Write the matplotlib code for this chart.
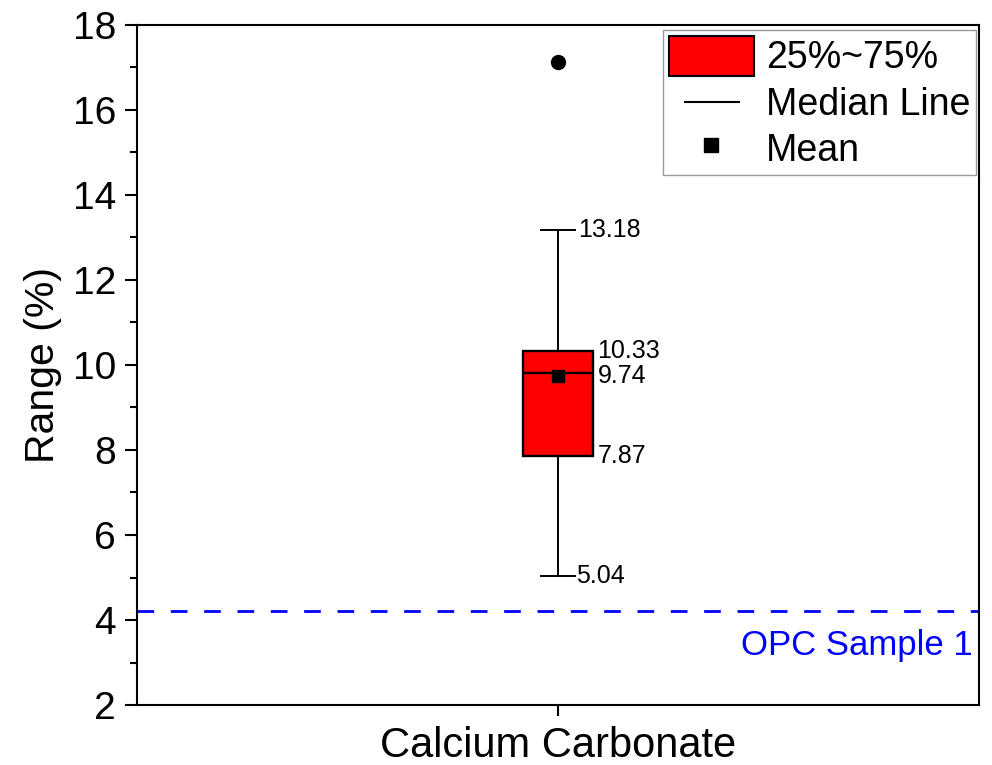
import matplotlib
matplotlib.use("Agg")
import matplotlib.pyplot as plt
from matplotlib.patches import Patch
from matplotlib.lines import Line2D
from matplotlib.ticker import MultipleLocator

plt.rcParams['font.family'] = ['Liberation Sans', 'DejaVu Sans']

# Box statistics for the sample group
category = "Calcium Carbonate"
q1, q3 = 7.87, 10.33
median = 9.81
mean = 9.74
whisker_low, whisker_high = 5.04, 13.18
outliers = [17.13]
reference_value = 4.21
reference_label = "OPC Sample 1"

fig = plt.figure(figsize=(9.92, 7.65), dpi=100)
ax = fig.add_axes([0.138, 0.0784, 0.849, 0.889])

stats = [dict(med=median, q1=q1, q3=q3, whislo=whisker_low, whishi=whisker_high,
              mean=mean, fliers=outliers, label=category)]
ax.bxp(stats, positions=[1], widths=0.164, capwidths=0.082, showmeans=True,
       patch_artist=True,
       boxprops=dict(facecolor='#ff0000', edgecolor='black', linewidth=1.7),
       medianprops=dict(color='black', linewidth=1.7),
       whiskerprops=dict(color='black', linewidth=1.4),
       capprops=dict(color='black', linewidth=1.4),
       meanprops=dict(marker='s', markerfacecolor='black', markeredgecolor='black',
                      markersize=8.5),
       flierprops=dict(marker='o', markerfacecolor='black', markeredgecolor='black',
                       markersize=10))

# Value annotations
ann_size = 18
for val, xoff in [(whisker_high, 1.047), (whisker_low, 1.043)]:
    ax.text(xoff, val, f"{val:.2f}", ha='left', va='center', fontsize=ann_size)
for val in [q3, mean, q1]:
    ax.text(1.094, val, f"{val:.2f}", ha='left', va='center', fontsize=ann_size)

# Reference line
ax.axhline(reference_value, color='#0000ff', linewidth=2.0, dashes=(6, 6))
ax.text(1.985, reference_value - 0.42, reference_label, color='#0000ff',
        ha='right', va='top', fontsize=25)

ax.set_xlim(0, 2)
ax.set_ylim(2, 18)
ax.yaxis.set_major_locator(MultipleLocator(2))
ax.yaxis.set_minor_locator(MultipleLocator(1))
ax.tick_params(axis='y', which='major', direction='out', length=9, width=1.5,
               labelsize=28, pad=6, right=False)
ax.tick_params(axis='y', which='minor', direction='out', length=5, width=1.5, right=False)
ax.tick_params(axis='x', which='major', direction='out', length=8, width=1.5,
               labelsize=30, pad=7, top=False)
ax.set_xticks([1])
ax.set_xticklabels([category])
ax.set_ylabel("Range (%)", fontsize=29.5, labelpad=8)
for s in ax.spines.values():
    s.set_linewidth(1.5)


class ShortLineHandler:
    """Median legend entry: a line shorter than the handle box, centred in it."""
    def legend_artist(self, legend, orig_handle, fontsize, handlebox):
        x0, y0 = -handlebox.xdescent, -handlebox.ydescent
        w, h = handlebox.width, handlebox.height
        line = Line2D([x0 + 0.19 * w, x0 + 0.83 * w], [y0 + h / 2] * 2,
                      color=orig_handle.get_color(), linewidth=orig_handle.get_linewidth())
        handlebox.add_artist(line)
        return line


median_handle = Line2D([0], [0], color='black', linewidth=1.5)
handles = [Patch(facecolor='#ff0000', edgecolor='black', linewidth=1.5),
           median_handle,
           Line2D([0], [0], marker='s', color='black', linestyle='none', markersize=10)]
labels = ["25%~75%", "Median Line", "Mean"]
leg = ax.legend(handles, labels, loc='upper right', bbox_to_anchor=(0.9965, 0.993),
                fontsize=27, frameon=True, fancybox=False, edgecolor='#999999',
                framealpha=1, handlelength=2.27, handleheight=1.27, handletextpad=0.32,
                labelspacing=0.15, borderpad=0.16, borderaxespad=0,
                handler_map={median_handle: ShortLineHandler()})
leg.get_frame().set_linewidth(1.0)

fig.savefig("out.png", dpi=100)
